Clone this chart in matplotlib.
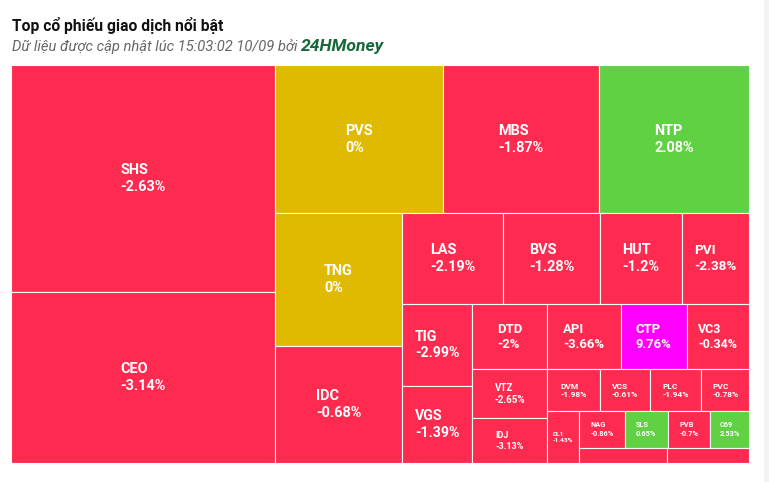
import matplotlib.pyplot as plt
from matplotlib.patches import Rectangle

plt.rcParams['font.family'] = ['Roboto', 'DejaVu Sans']

# data: ticker, traded value (relative), price change (%)
tickers = ['SHS', 'CEO', 'PVS', 'MBS', 'NTP', 'TNG', 'IDC', 'LAS', 'BVS', 'HUT',
           'PVI', 'TIG', 'VGS', 'DTD', 'API', 'CTP', 'VC3', 'VTZ', 'IDJ', 'DVM',
           'VCS', 'PLC', 'PVC', 'DL1', 'NAG', 'SLS', 'PVB', 'C69', '', '']
values = [60007, 45144, 24825, 23224, 22200, 16773, 14827, 9215, 8771, 7410,
          6104, 5789, 5457, 4858, 4832, 4310, 4068, 3623, 3370, 2193,
          2127, 2127, 1989, 1689, 1670, 1570, 1565, 1431, 1336, 1259]
changes = [-2.63, -3.14, 0, -1.87, 2.08, 0, -0.68, -2.19, -1.28, -1.2,
           -2.38, -2.99, -1.39, -2, -3.66, 9.76, -0.34, -2.65, -3.13, -1.98,
           -0.61, -1.94, -0.78, -1.43, -0.86, 0.65, -0.7, 2.53, -1.0, -1.0]

RED = '#FF2A4F'
GREEN = '#5FD143'
YELLOW = '#DFBA00'
CEIL = '#FF00FF'


def pick_color(c):
    if c >= 9.5:
        return CEIL
    if c > 0:
        return GREEN
    if c == 0:
        return YELLOW
    return RED


class Group:
    # row builder in the style of the Highcharts "squarified" layout
    def __init__(self, h, w, d):
        self.height, self.width, self.direction = h, w, d
        self.total = 0
        self.nW = self.lW = self.nH = self.lH = 0
        self.elArr = []
        self.lR = self.nR = None

    def add(self, el):
        last = self.elArr[-1] if self.elArr else None
        self.total += el
        self.lR = self.nR = None
        if self.direction == 0:
            self.lW = self.nW
            self.nW = self.total / self.height
            if last is not None:
                lh = last / self.lW
                nh = last / self.nW
                self.lR = max(self.lW / lh, lh / self.lW)
                self.nR = max(self.nW / nh, nh / self.nW)
        else:
            self.lH = self.nH
            self.nH = self.total / self.width
            if last is not None:
                lw = last / self.lH
                nw = last / self.nH
                self.lR = max(lw / self.lH, self.lH / lw)
                self.nR = max(nw / self.nH, self.nH / nw)
        self.elArr.append(el)

    def reset(self):
        self.nW = self.lW = 0
        self.elArr = []
        self.total = 0


def treemap(vals, X, Y, W, H):
    tot = sum(vals)
    areas = [v / tot * W * H for v in vals]
    g = Group(H, W, 0)
    pos = {'x': X, 'y': Y}
    rects = []

    def calc(last):
        gw, gh = (g.nW, g.nH) if last else (g.lW, g.lH)
        keep = None if last else g.elArr[-1]
        items = g.elArr if last else g.elArr[:-1]
        for p in items:
            if g.direction == 0:
                rects.append((pos['x'], pos['y'], gw, p / gw))
                pos['y'] += p / gw
            else:
                rects.append((pos['x'], pos['y'], p / gh, gh))
                pos['x'] += p / gh
        g.reset()
        if g.direction == 0:
            g.width -= gw
        else:
            g.height -= gh
        pos['y'] = Y + (H - g.height)
        pos['x'] = X + (W - g.width)
        g.direction = 1 - g.direction
        if keep is not None:
            g.add(keep)

    for i, a in enumerate(areas):
        g.add(a)
        if g.nR is not None and g.nR > g.lR:
            calc(False)
        if i == len(areas) - 1:
            calc(True)
    return rects


W_PX, H_PX = 769, 482
fig = plt.figure(figsize=(W_PX / 100, H_PX / 100), dpi=100)
ax = fig.add_axes([0, 0, 1, 1])
ax.set_xlim(0, W_PX)
ax.set_ylim(H_PX, 0)
ax.axis('off')

PX = 0.72  # pixels -> points

ax.text(12, 25, 'Top cổ phiếu giao dịch nổi bật', fontsize=15.6 * PX,
        fontweight='bold', color='#111111', va='center', ha='left')
sub = ax.text(12, 47, 'Dữ liệu được cập nhật lúc 15:03:02 10/09 bởi ',
              fontsize=14.8 * PX, style='italic', color='#666666',
              va='center', ha='left')
ax.annotate('24HMoney', xy=(1, 0), xycoords=sub, va='bottom', ha='left',
            fontsize=17.5 * PX, style='italic', fontweight='bold', color='#17693A')

# faint card edge on the right
ax.add_patch(Rectangle((764, 0), 5, H_PX, color='#F3F3F3', lw=0))

rects = treemap(values, 11.3, 65, 737.7, 398.3)
for (x, y, w, h), name, ch in zip(rects, tickers, changes):
    ax.add_patch(Rectangle((x, y), w, h, facecolor=pick_color(ch),
                           edgecolor='white', lw=0.8))
    if not name:
        continue
    fs = min(14.5, min(w, h) / 5.0)
    ax.text(x + w / 2, y + h / 2, f'{name}\n{ch:g}%', color='white',
            fontsize=fs * PX, fontweight='bold', ha='center', va='center',
            multialignment='left', linespacing=1.25)

fig.savefig('out.png', dpi=100)
